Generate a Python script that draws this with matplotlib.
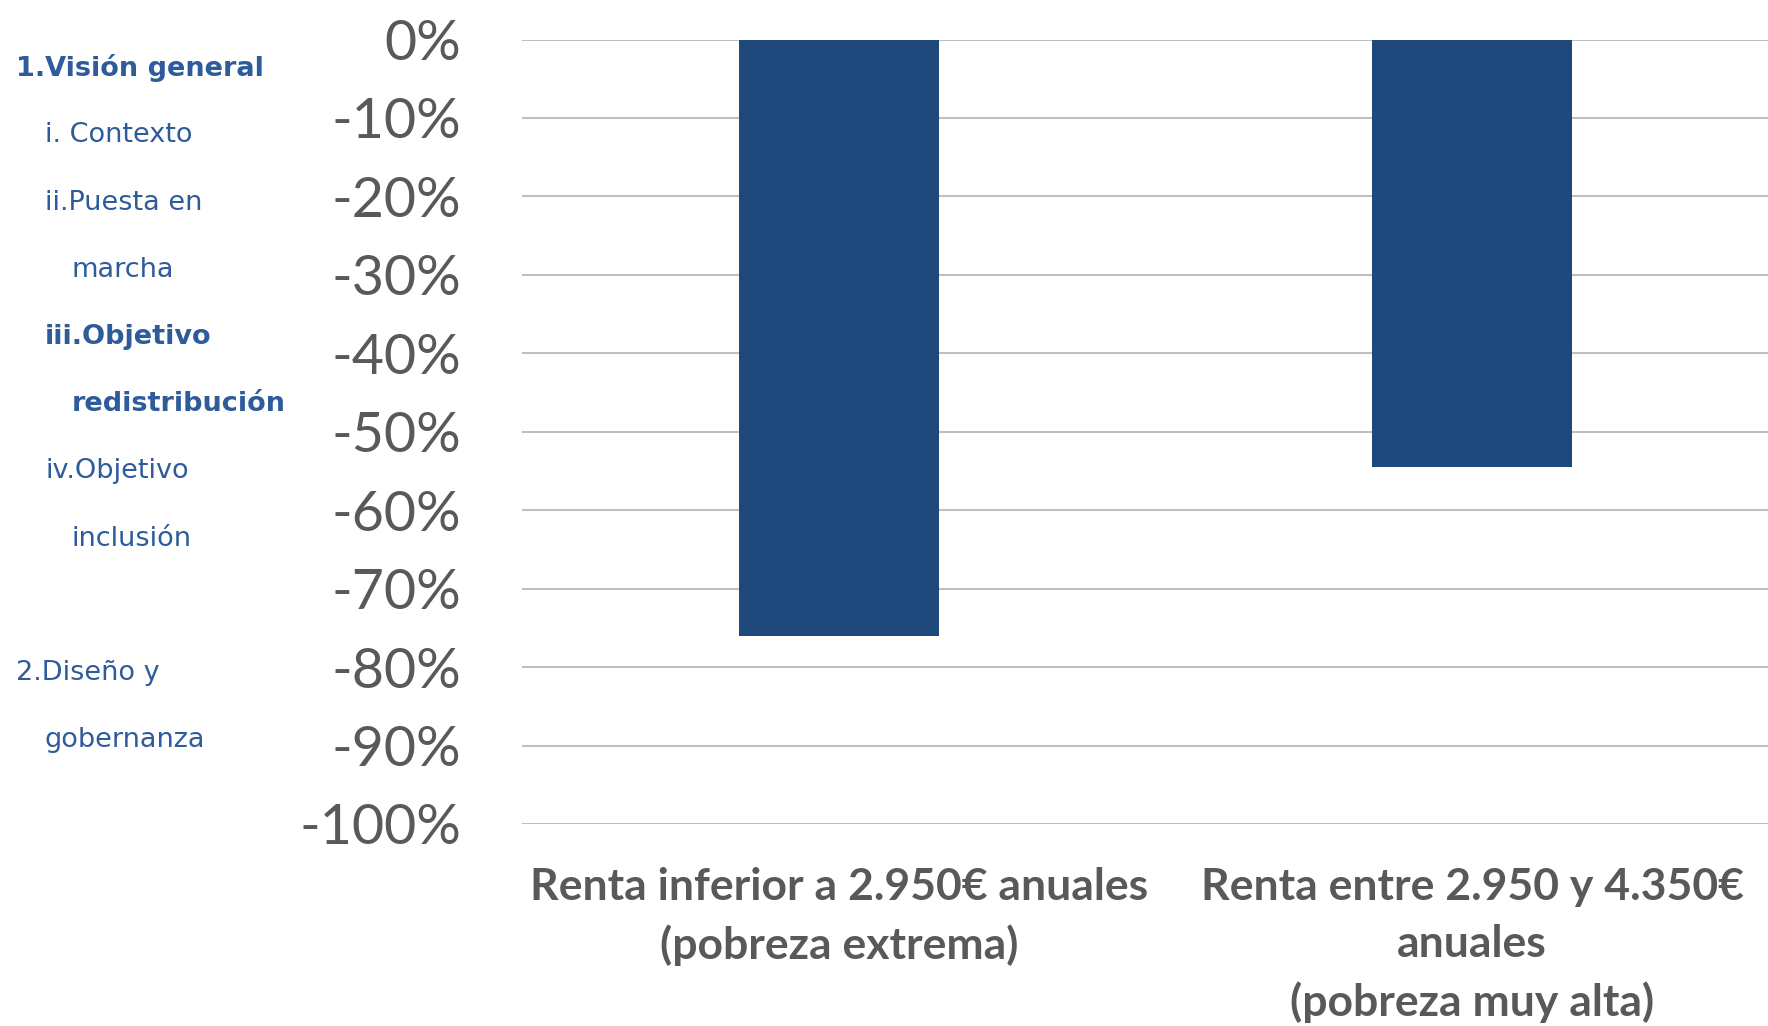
import matplotlib.pyplot as plt
from matplotlib.ticker import FuncFormatter

# data
categories = ["Renta inferior a 2.950€ anuales\n(pobreza extrema)",
              "Renta entre 2.950 y 4.350€\nanuales\n(pobreza muy alta)"]
values = [-0.76, -0.545]
y_ticks = [0, -0.1, -0.2, -0.3, -0.4, -0.5, -0.6, -0.7, -0.8, -0.9, -1.0]

nav_items = ["1.Visión general", "i. Contexto", "ii.Puesta en", "marcha",
             "iii.Objetivo", "redistribución", "iv.Objetivo", "inclusión",
             "2.Diseño y", "gobernanza"]
nav_bold = [True, False, False, False, True, True, False, False, False, False]
nav_x = [16, 45, 45, 72, 45, 72, 45, 72, 16, 44]
nav_y = [68, 135, 203, 270, 337, 404, 471, 539, 673, 740]

W, H = 1768, 1026
plt.rcParams['font.family'] = ['Lato', 'DejaVu Sans']

fig = plt.figure(figsize=(W / 100, H / 100), dpi=100)
ax = fig.add_axes([522 / W, 1 - 824 / H, (W - 522) / W, (824 - 39.5) / H])

ax.bar(range(len(values)), values, width=0.316, color="#1F497D", zorder=3)
ax.set_ylim(-1.0, 0)
ax.set_xlim(-0.5, 1.467)
ax.set_yticks(y_ticks)
ax.yaxis.set_major_formatter(FuncFormatter(lambda v, p: f"{v*100:.0f}%"))
ax.grid(axis="y", color="#BFBFBF", linewidth=1.5, zorder=0)
ax.set_axisbelow(True)
for s in ax.spines.values():
    s.set_visible(False)
ax.tick_params(axis="y", length=0, pad=44, labelsize=40, labelcolor="#595959")
ax.set_xticks(range(len(categories)))
ax.set_xticklabels(categories, fontsize=32, fontweight="bold", color="#595959",
                   linespacing=1.5)
ax.tick_params(axis="x", length=0, pad=31)

for txt, b, x, y in zip(nav_items, nav_bold, nav_x, nav_y):
    fig.text(x / W, 1 - y / H, txt, fontsize=19.5, color="#2E5C9A",
             family="DejaVu Sans",
             fontweight="bold" if b else "normal", va="center", ha="left")

fig.savefig("out.png", dpi=100)
